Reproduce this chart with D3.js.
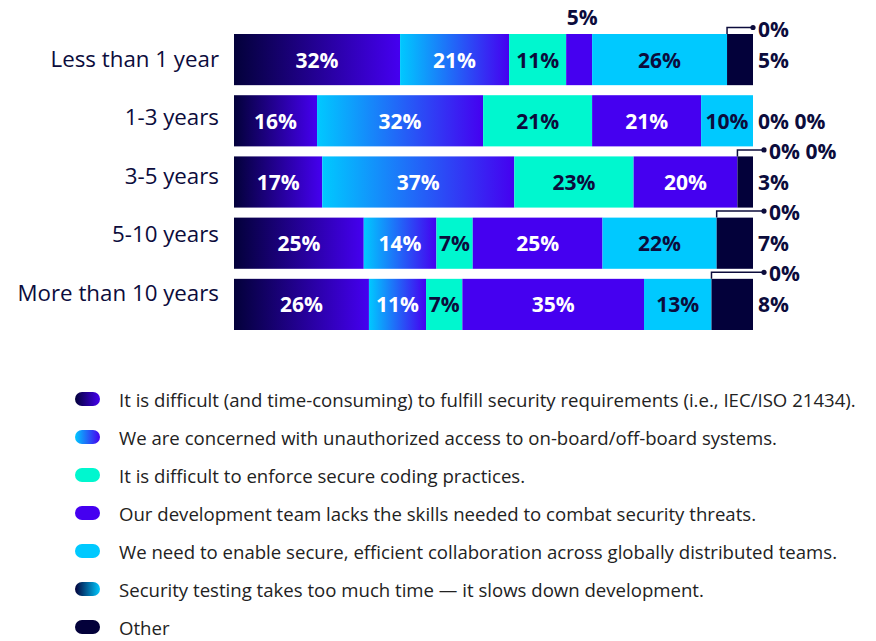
<!DOCTYPE html>
<html><head><meta charset="utf-8">
<script src="https://cdn.jsdelivr.net/npm/d3@7"></script>
<style>
html,body{margin:0;padding:0;background:#fff;}
svg{display:block;}
</style></head>
<body>
<svg id="chart" width="876" height="641"></svg>
<script>
// ---------- DATA ----------
const categories = ["Less than 1 year", "1-3 years", "3-5 years", "5-10 years", "More than 10 years"];
const seriesNames = [
  "It is difficult (and time-consuming) to fulfill security requirements (i.e., IEC/ISO 21434).",
  "We are concerned with unauthorized access to on-board/off-board systems.",
  "It is difficult to enforce secure coding practices.",
  "Our development team lacks the skills needed to combat security threats.",
  "We need to enable secure, efficient collaboration across globally distributed teams.",
  "Security testing takes too much time \u2014 it slows down development.",
  "Other"
];
const difficultRequirements = [32, 16, 17, 25, 26];
const unauthorizedAccess    = [21, 32, 37, 14, 11];
const secureCoding          = [11, 21, 23, 7, 7];
const lacksSkills           = [5, 21, 20, 25, 35];
const collaboration         = [26, 10, 0, 22, 13];
const testingTime           = [0, 0, 0, 0, 0];
const other                 = [5, 0, 3, 7, 8];
const seriesValues = [difficultRequirements, unauthorizedAccess, secureCoding, lacksSkills, collaboration, testingTime, other];

// ---------- STYLE ----------
const NAVY = "#03013a", PURPLE = "#4500f0", CYAN = "#00c9ff", TURQ = "#00f7cf", TEXT = "#0c0c3c";
const svg = d3.select("#chart");
const defs = svg.append("defs");
function grad(id, c0, c1) {
  const g = defs.append("linearGradient").attr("id", id).attr("x1", "0%").attr("x2", "100%").attr("y1", "0%").attr("y2", "0%");
  g.append("stop").attr("offset", "0%").attr("stop-color", c0);
  g.append("stop").attr("offset", "100%").attr("stop-color", c1);
}
grad("g0", NAVY, PURPLE);
grad("g1", CYAN, PURPLE);
grad("g5", NAVY, CYAN);
const fills = ["url(#g0)", "url(#g1)", TURQ, PURPLE, CYAN, "url(#g5)", NAVY];
const labelColors = ["#fff", "#fff", TEXT, "#fff", TEXT, "#fff", "#fff"];
const FONT = "'Open Sans', 'Noto Sans', sans-serif";

// ---------- SCALES ----------
const x = d3.scaleLinear().domain([0, 100]).range([234, 753]);
const y = d3.scaleBand().domain(categories).range([34, 330]).paddingInner(0.164);
const yLabel = d3.scalePoint().domain(categories).range([58, 292]);

const table = categories.map((c, i) => {
  const o = { cat: c };
  seriesValues.forEach((s, k) => o["s" + k] = s[i]);
  return o;
});
const keys = seriesValues.map((_, k) => "s" + k);
const stacked = d3.stack().keys(keys)(table);

// ---------- BARS ----------
stacked.forEach((layer, k) => {
  svg.append("g").selectAll("rect").data(layer).join("rect")
    .attr("x", d => x(d[0]))
    .attr("y", d => y(d.data.cat))
    .attr("width", d => Math.max(0, x(d[1]) - x(d[0])))
    .attr("height", y.bandwidth())
    .attr("fill", fills[k]);
});

// ---------- CATEGORY LABELS ----------
svg.append("g").selectAll("text").data(categories).join("text")
  .attr("x", 219).attr("y", d => yLabel(d))
  .attr("text-anchor", "end").attr("dominant-baseline", "central")
  .attr("font-family", FONT).attr("font-size", 22.3).attr("fill", TEXT)
  .text(d => d);

// ---------- VALUE LABELS ----------
const lg = svg.append("g").attr("font-family", FONT).attr("font-weight", 700).attr("font-size", 21);
const last = keys.length - 1;
categories.forEach((cat, i) => {
  const top = y(cat), mid = top + y.bandwidth() / 2;
  const zeroGroups = new Map();
  stacked.forEach((layer, k) => {
    const d = layer[i], v = seriesValues[k][i];
    if (k === last) return;
    if (v >= 7) {
      lg.append("text").attr("x", (x(d[0]) + x(d[1])) / 2).attr("y", mid)
        .attr("text-anchor", "middle").attr("dominant-baseline", "central")
        .attr("fill", labelColors[k]).text(v + "%");
    } else if (v > 0) {
      lg.append("text").attr("x", (x(d[0]) + x(d[1])) / 2 + 3).attr("y", top - 17)
        .attr("text-anchor", "middle").attr("dominant-baseline", "central")
        .attr("fill", TEXT).text(v + "%");
    } else {
      const pos = d[0];
      if (!zeroGroups.has(pos)) zeroGroups.set(pos, []);
      zeroGroups.get(pos).push(v + "%");
    }
  });
  const otherVal = seriesValues[last][i];
  let rightText = [otherVal + "%"];
  zeroGroups.forEach((labels, pos) => {
    if (pos >= 100) { rightText = labels.concat(rightText); return; }
    const lx = x(pos), ly = top - 6.5;
    const dotX = i === 0 ? x(100) : x(100) + 11;
    lg.append("path").attr("d", `M${lx},${top}V${ly}H${dotX}`)
      .attr("fill", "none").attr("stroke", TEXT).attr("stroke-width", 1.5);
    lg.append("circle").attr("cx", dotX).attr("cy", ly).attr("r", 2.6).attr("fill", TEXT);
    lg.append("text").attr("x", dotX + 5).attr("y", ly + 1)
      .attr("dominant-baseline", "central").attr("fill", TEXT).text(labels.join(" "));
  });
  lg.append("text").attr("x", x(100) + 5).attr("y", mid)
    .attr("dominant-baseline", "central").attr("fill", TEXT).text(rightText.join(" "));
});

// ---------- LEGEND ----------
const legY = d3.scalePoint().domain(seriesNames).range([399, 627]);
const leg = svg.append("g").selectAll("g").data(seriesNames).join("g")
  .attr("transform", d => `translate(0,${legY(d)})`);
leg.append("rect").attr("x", 75).attr("y", -7).attr("width", 25).attr("height", 14).attr("rx", 7)
  .attr("fill", (d, k) => fills[k]);
leg.append("text").attr("x", 119).attr("y", 0).attr("dominant-baseline", "central")
  .attr("font-family", FONT).attr("font-size", 18.6).attr("fill", "#222")
  .text(d => d);
</script>
</body></html>
